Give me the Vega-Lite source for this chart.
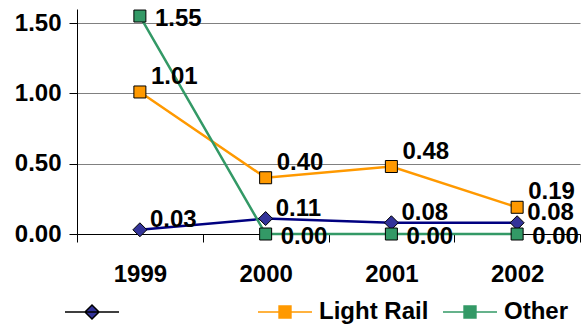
{
  "$schema": "https://vega.github.io/schema/vega-lite/v6.json",
  "width": 503,
  "height": 225,
  "autosize": {"type": "none"},
  "padding": {"left": 77, "top": 9, "right": 8, "bottom": 92},
  "background": "white",
  "config": {
    "view": {"stroke": null},
    "font": "Liberation Sans"
  },
  "data": {
    "values": [
      {"year": "1999", "series": "\u00a0", "value": 0.03},
      {"year": "2000", "series": "\u00a0", "value": 0.11},
      {"year": "2001", "series": "\u00a0", "value": 0.08},
      {"year": "2002", "series": "\u00a0", "value": 0.08},
      {"year": "1999", "series": "Light Rail", "value": 1.01},
      {"year": "2000", "series": "Light Rail", "value": 0.40},
      {"year": "2001", "series": "Light Rail", "value": 0.48},
      {"year": "2002", "series": "Light Rail", "value": 0.19},
      {"year": "1999", "series": "Other", "value": 1.55},
      {"year": "2000", "series": "Other", "value": 0.00},
      {"year": "2001", "series": "Other", "value": 0.00},
      {"year": "2002", "series": "Other", "value": 0.00}
    ]
  },
  "encoding": {
    "x": {
      "field": "year",
      "type": "nominal",
      "scale": {"paddingInner": 0, "paddingOuter": 0},
      "axis": {
        "title": null,
        "labelAngle": 0,
        "labelFont": "Liberation Sans",
        "labelFontSize": 24,
        "labelFontWeight": "bold",
        "labelColor": "black",
        "labelPadding": 20,
        "tickBand": "extent",
        "tickSize": 8,
        "tickColor": "black",
        "domainColor": "black",
        "grid": false
      }
    },
    "y": {
      "field": "value",
      "type": "quantitative",
      "scale": {"domain": [0, 1.6], "nice": false},
      "axis": {
        "title": null,
        "values": [0, 0.5, 1, 1.5],
        "format": ".2f",
        "labelFont": "Liberation Sans",
        "labelFontSize": 24,
        "labelFontWeight": "bold",
        "labelColor": "black",
        "labelPadding": 8,
        "tickSize": 8,
        "tickColor": "black",
        "domainColor": "black",
        "grid": true,
        "gridColor": "#808080",
        "gridWidth": 1
      }
    }
  },
  "layer": [
    {
      "mark": {"type": "line", "strokeWidth": 2.5},
      "encoding": {
        "stroke": {
          "field": "series",
          "type": "nominal",
          "scale": {
            "domain": ["Light Rail", "Other", "\u00a0"],
            "range": ["#FF9900", "#339966", "#000080"]
          },
          "legend": {
            "title": null,
            "values": ["Light Rail", "Other"],
            "orient": "none",
            "legendX": 180,
            "legendY": 275,
            "direction": "horizontal",
            "symbolType": "M-1,0H1M-0.22,-0.22H0.22V0.22H-0.22Z",
            "symbolSize": 2916,
            "symbolStrokeWidth": 1.5,
            "labelFont": "Liberation Sans",
            "labelFontSize": 24,
            "labelFontWeight": "bold",
            "labelColor": "black",
            "labelOffset": 6,
            "columnPadding": 11,
            "labelLimit": 300,
            "encode": {
              "symbols": {
                "update": {
                  "fill": {"scale": "fill", "field": "value"},
                  "shape": {"value": "M-1,0H1M-0.22,-0.22H0.22V0.22H-0.22Z"}
                }
              }
            }
          }
        }
      }
    },
    {
      "transform": [{"filter": "trim(datum.series) == ''"}],
      "mark": {"type": "point", "shape": "diamond", "filled": true, "size": 196, "stroke": "black", "strokeWidth": 1, "opacity": 1},
      "encoding": {
        "fill": {
          "field": "series",
          "type": "nominal",
          "scale": {
            "domain": ["\u00a0", "Light Rail", "Other"],
            "range": ["#333399", "#FF9900", "#339966"]
          },
          "legend": {
            "title": null,
            "values": ["\u00a0"],
            "orient": "none",
            "legendX": -13,
            "legendY": 275,
            "direction": "horizontal",
            "symbolType": "M-1,0H1M-0.26,0L0,-0.26L0.26,0L0,0.26Z",
            "symbolSize": 2916,
            "symbolStrokeWidth": 1.5,
            "labelFontSize": 24,
            "labelOffset": 6,
            "encode": {
              "symbols": {
                "update": {
                  "fill": {"scale": "fill", "field": "value"},
                  "stroke": {"scale": "stroke", "field": "value"},
                  "strokeWidth": {"value": 1.5},
                  "opacity": {"value": 1},
                  "shape": {"value": "M-1,0H1M-0.26,0L0,-0.26L0.26,0L0,0.26Z"}
                }
              }
            }
          }
        }
      }
    },
    {
      "transform": [{"filter": "trim(datum.series) != ''"}],
      "mark": {"type": "point", "shape": "square", "filled": true, "size": 144, "stroke": "black", "strokeWidth": 1, "opacity": 1},
      "encoding": {
        "fill": {
          "field": "series",
          "type": "nominal",
          "legend": null
        }
      }
    },
    {
      "transform": [{"filter": "trim(datum.series) == ''"}],
      "mark": {"type": "text", "align": "left", "baseline": "middle", "dx": 10, "dy": -10, "font": "Liberation Sans", "fontSize": 24, "fontWeight": "bold", "color": "black"},
      "encoding": {"text": {"field": "value", "type": "quantitative", "format": ".2f"}}
    },
    {
      "transform": [{"filter": "datum.series == 'Light Rail'"}],
      "mark": {"type": "text", "align": "left", "baseline": "middle", "dx": 11, "dy": -15, "font": "Liberation Sans", "fontSize": 24, "fontWeight": "bold", "color": "black"},
      "encoding": {"text": {"field": "value", "type": "quantitative", "format": ".2f"}}
    },
    {
      "transform": [{"filter": "datum.series == 'Other'"}],
      "mark": {"type": "text", "align": "left", "baseline": "middle", "dx": 15, "dy": 3, "font": "Liberation Sans", "fontSize": 24, "fontWeight": "bold", "color": "black"},
      "encoding": {"text": {"field": "value", "type": "quantitative", "format": ".2f"}}
    }
  ]
}
